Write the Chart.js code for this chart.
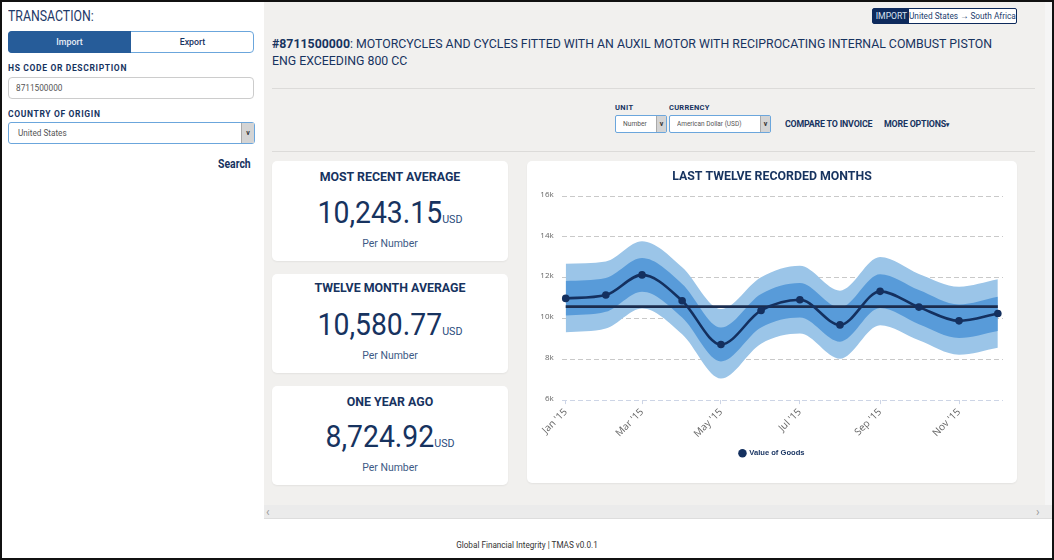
<!DOCTYPE html>
<html><head><meta charset="utf-8">
<script src="https://cdn.jsdelivr.net/npm/chart.js@4"></script>
<style>
html,body{margin:0;padding:0;width:1054px;height:560px;overflow:hidden;background:#fff;font-family:Roboto,sans-serif;color:#17335f}
.a{position:absolute;white-space:nowrap;box-sizing:border-box}
.s{display:inline-block;transform-origin:left center}
.card{position:absolute;background:#fff;border-radius:5px;box-shadow:0 1px 2px rgba(0,0,0,.06);left:272px;width:236px;text-align:center}
.card .t{position:absolute;left:0;right:0;top:6.5px;font-size:13.6px;font-weight:700;color:#17335f;line-height:16px;transform:scaleX(.91)}
.card .v{position:absolute;left:0;right:0;top:31.5px;font-size:30.5px;line-height:40px;color:#17335f;transform:scaleX(.93)}
.card .v small{font-size:11.5px;color:#2a4a7c}
.card .p{position:absolute;left:0;right:0;top:75px;font-size:11.4px;line-height:14px;color:#3d5a85;transform:scaleX(.92)}
.lbl{font-weight:700;letter-spacing:.65px;color:#17335f}
.sel{background:#fff;border:1px solid #6ba6dc;border-radius:2px;color:#555}
.arr{position:absolute;top:0;bottom:0;right:0;background:#d4d4d4;border-left:1px solid #aaa;font-size:7px;font-weight:700;text-align:center;color:#333}
</style></head><body>
<div class="a" style="left:264px;top:0;width:782px;height:505px;background:#f1f0ee"></div>
<div class="a" style="left:1045px;top:0;width:9px;height:505px;background:#f5f5f5"></div>
<div class="a" style="left:264px;top:505px;width:790px;height:13px;background:#ebebeb"></div>
<div class="a" style="left:264px;top:518px;width:790px;height:1px;background:#ddd"></div>
<div class="a" style="left:266px;top:505px;font-size:12px;line-height:14px;color:#999">‹</div>
<div class="a" style="left:1036px;top:505px;font-size:12px;line-height:14px;color:#999">›</div>

<div class="a" style="left:8px;top:7px;font-size:15px;line-height:18px;color:#1f3a68;transform:scaleX(.82);transform-origin:left center">TRANSACTION:</div>
<div class="a" style="left:8px;top:31px;width:246px;height:22px;background:#fff;border:1px solid #6ba6dc;border-radius:4px"></div>
<div class="a" style="left:8px;top:31px;width:123px;height:22px;background:#265c99;border-radius:4px 0 0 4px;color:#e8eef6;font-size:8.8px;font-weight:500;line-height:22px;text-align:center">Import</div>
<div class="a" style="left:131px;top:31px;width:123px;height:22px;color:#17335f;font-size:8.8px;font-weight:500;line-height:22px;text-align:center">Export</div>
<div class="a lbl" style="left:8px;top:62px;font-size:8.5px;line-height:12px">HS CODE OR DESCRIPTION</div>
<div class="a" style="left:8px;top:77px;width:246px;height:22px;background:#fff;border:1px solid #ccc;border-radius:4px;font-size:9.5px;line-height:20px;padding-left:7px;color:#555"><span class="s" style="transform:scaleX(.87)">8711500000</span></div>
<div class="a lbl" style="left:8px;top:107.5px;font-size:8.5px;line-height:12px">COUNTRY OF ORIGIN</div>
<div class="a sel" style="left:8px;top:122px;width:247px;height:22px;border-radius:3px;font-size:9.5px;line-height:20px;padding-left:9px"><span class="s" style="transform:scaleX(.86)">United States</span><div class="arr" style="width:12px;line-height:20px">v</div></div>
<div class="a" style="left:218px;top:156.5px;font-size:12px;line-height:15px;font-weight:700;color:#17335f;transform:scaleX(.87);transform-origin:left center">Search</div>

<div class="a" style="left:872px;top:8px;width:145px;height:16px;background:#fff;border:1px solid #0e2a5c;border-radius:2px;font-size:9.6px;line-height:14px;color:#24406e"><span class="a" style="left:0;top:0;width:36px;background:#0e2a5c;color:#d8e2f0;text-align:center;height:14px"><span class="s" style="transform:scaleX(.9);transform-origin:center">IMPORT</span></span><span class="a s" style="left:36px;top:0;transform:scaleX(.86)">United States → South Africa</span></div>
<div class="a" style="left:272px;top:36px;width:790px;white-space:normal;font-size:13.4px;line-height:16.5px;color:#17335f;transform:scaleX(.92);transform-origin:left top"><b>#8711500000</b>: MOTORCYCLES AND CYCLES FITTED WITH AN AUXIL MOTOR WITH RECIPROCATING INTERNAL COMBUST PISTON ENG EXCEEDING 800 CC</div>
<div class="a" style="left:272px;top:88px;width:763px;height:1px;background:#dcdbd9"></div>
<div class="a" style="left:272px;top:151px;width:763px;height:1px;background:#dcdbd9"></div>
<div class="a lbl" style="left:615px;top:103px;font-size:7.5px;line-height:10px;letter-spacing:.4px">UNIT</div>
<div class="a lbl" style="left:669px;top:103px;font-size:7.5px;line-height:10px;letter-spacing:.25px">CURRENCY</div>
<div class="a sel" style="left:615px;top:115px;width:52px;height:18px;font-size:8px;line-height:16px;padding-left:7px"><span class="s" style="transform:scaleX(.83)">Number</span><div class="arr" style="width:9px;line-height:16px">v</div></div>
<div class="a sel" style="left:669px;top:115px;width:102px;height:18px;font-size:8px;line-height:16px;padding-left:7px"><span class="s" style="transform:scaleX(.81)">American Dollar (USD)</span><div class="arr" style="width:9px;line-height:16px">v</div></div>
<div class="a" style="left:785px;top:117px;font-size:9.6px;line-height:13px;font-weight:700;color:#17335f;letter-spacing:-.2px;transform:scaleX(.92);transform-origin:left center">COMPARE TO INVOICE</div>
<div class="a" style="left:884px;top:117px;font-size:9.6px;line-height:13px;font-weight:700;color:#17335f;letter-spacing:-.2px;transform:scaleX(.92);transform-origin:left center">MORE OPTIONS<span style="font-size:7px">▾</span></div>

<div class="card" style="top:161px;height:100px"><div class="t">MOST RECENT AVERAGE</div><div class="v">10,243.15<small>USD</small></div><div class="p">Per Number</div></div>
<div class="card" style="top:274px;height:99px"><div class="t" style="top:5px">TWELVE MONTH AVERAGE</div><div class="v" style="top:31px">10,580.77<small>USD</small></div><div class="p" style="top:74px">Per Number</div></div>
<div class="card" style="top:386px;height:99px"><div class="t">ONE YEAR AGO</div><div class="v" style="top:31px">8,724.92<small>USD</small></div><div class="p" style="top:74px">Per Number</div></div>

<div class="card" style="left:527px;top:161px;width:490px;height:322px"></div>
<div class="a" style="left:527px;top:161px;width:490px;height:322px"><canvas id="c" width="490" height="322" style="display:block;width:490px;height:322px"></canvas></div>

<div class="a" style="left:0;top:538px;width:1054px;text-align:center;font-size:8.6px;line-height:14px;color:#333;transform:scaleX(.95)">Global Financial Integrity | TMAS v0.0.1</div>
<div class="a" style="left:0;top:0;width:1054px;height:560px;border:2px solid #111;pointer-events:none"></div>

<script>
const categories=["Jan '15","Feb '15","Mar '15","Apr '15","May '15","Jun '15","Jul '15","Aug '15","Sep '15","Oct '15","Nov '15","Dec '15"];
const dayOfYear=[0,31,59,90,120,151,181,212,243,273,304,334];
const valueOfGoods=[10987,11151,12138,10872,8724.92,10395,10921,9687,11332,10559,9885,10243.15];
const twelveMonthAverage=[10580.77,10580.77,10580.77,10580.77,10580.77,10580.77,10580.77,10580.77,10580.77,10580.77,10580.77,10580.77];
const outerTop=[12681,12796,13783,12516,10461,12023,12582,11365,13010,12188,11562,11924];
const outerBottom=[9326,9507,10493,9227,7056,8766,9260,8026,9671,8931,8224,8569];
const innerTop=[11842,11990,12961,11694,9556,11201,11743,10543,12171,11398,10691,11069];
const innerBottom=[10148,10329,11316,10049,7895,9556,10049,8865,10510,9720,9046,9391];
const yTicks=[6000,8000,10000,12000,14000,16000];
const xTickIndex=[0,2,4,6,8,10];

const pts=a=>a.map((y,i)=>({x:dayOfYear[i],y}));
const band=(label,data,fill,bg,order)=>({label,data:pts(data),fill,backgroundColor:bg,borderWidth:0,pointRadius:0,cubicInterpolationMode:'monotone',order});
const OUT='rgb(155,197,232)',INN='rgb(88,155,217)',NAVY='#14305f';
new Chart(document.getElementById('c'),{
 type:'line',
 data:{datasets:[
  {label:'Value of Goods',data:pts(valueOfGoods),borderColor:NAVY,backgroundColor:NAVY,borderWidth:2.6,pointRadius:3.8,pointBackgroundColor:NAVY,pointBorderWidth:0,cubicInterpolationMode:'monotone',fill:false,order:1},
  {label:'Twelve Month Average',data:pts(twelveMonthAverage),borderColor:'#1b2c4e',borderWidth:2.6,pointRadius:0,fill:false,order:2},
  band('Inner top',innerTop,3,INN,3),
  band('Inner bottom',innerBottom,false,INN,4),
  band('Outer top',outerTop,5,OUT,5),
  band('Outer bottom',outerBottom,false,OUT,6)
 ]},
 options:{
  responsive:false,animation:false,
  layout:{padding:{left:14,right:14,top:0,bottom:16}},
  plugins:{
   title:{display:true,text:'LAST TWELVE RECORDED MONTHS',color:'#17335f',font:{family:'Roboto',size:12.35,weight:'700'},padding:{top:8,bottom:12.3}},
   legend:{display:true,position:'bottom',labels:{filter:i=>i.text==='Value of Goods',usePointStyle:true,pointStyle:'circle',boxWidth:6,boxHeight:6,padding:6,color:'#14305f',font:{family:'Liberation Sans',size:7.6,weight:'700'}}},
   tooltip:{enabled:false}
  },
  scales:{
   x:{type:'linear',min:-3.1,max:338,
    afterBuildTicks(s){s.ticks=xTickIndex.map(i=>({value:dayOfYear[i]}));},
    afterFit(s){s.height=43.3;},
    grid:{drawOnChartArea:false,drawTicks:true,tickLength:4,color:'#cdd5e6'},border:{display:false},
    ticks:{autoSkip:false,maxRotation:45,minRotation:45,padding:2,color:'#666',font:{family:'Open Sans',size:10},
     callback(v){return categories[dayOfYear.indexOf(v)];}}},
   y:{min:6000,max:16000,
    afterBuildTicks(s){s.ticks=yTicks.map(value=>({value}));},
    afterFit(s){s.width=20.7;},
    grid:{drawTicks:false,color:c=>c.tick.value===6000?'#cdd5e6':'#c9c9c9',lineWidth:1},
    border:{display:false,dash:[5,3]},
    ticks:{padding:8,labelOffset:-1.5,color:'#666',font:{family:'Open Sans',size:8},callback:v=>(v/1000)+'k'}}
  }
 }
});
</script>
</body></html>
